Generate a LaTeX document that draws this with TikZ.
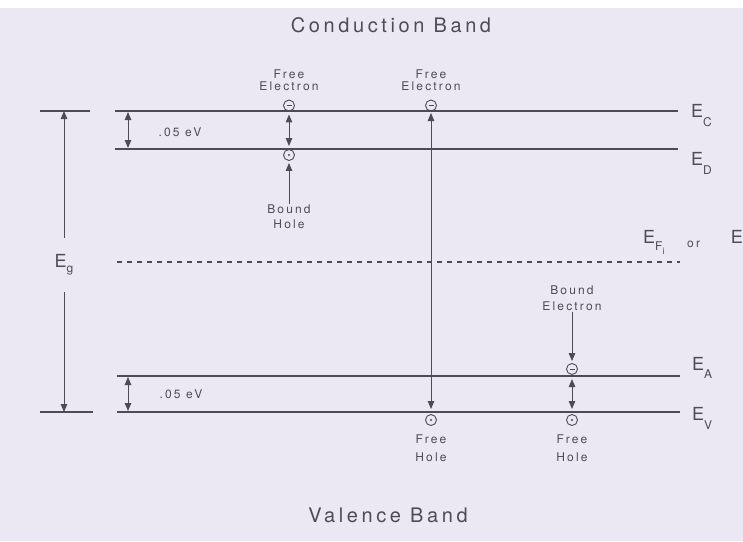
\documentclass[tikz,border=0pt]{standalone}
\usepackage{fontspec}
\setmainfont{TeX Gyre Heros}
\newfontfamily\spaced[LetterSpace=18]{TeX Gyre Heros}
\usetikzlibrary{arrows.meta}
\definecolor{bg}{RGB}{236,232,243}
\definecolor{ink}{RGB}{76,76,84}
\newcommand\Elev[2]{{\fontsize{18}{18}\selectfont E}\raisebox{-#2}{\fontsize{12}{12}\selectfont #1}}
\begin{document}
\begin{tikzpicture}[x=1pt,y=-1pt,
  level/.style={draw=ink, line width=1.4pt},
  arr/.style={draw=ink, line width=1pt, -{Triangle[length=8pt,width=6.5pt]}},
  darr/.style={draw=ink, line width=1pt, {Triangle[length=8pt,width=6.5pt]}-{Triangle[length=8pt,width=6.5pt]}},
  elec/.style={circle, draw=ink, line width=0.9pt, minimum size=11pt, inner sep=0pt,
    path picture={\draw[ink, line width=0.9pt] ([xshift=-2.5pt]path picture bounding box.center) -- ([xshift=2.5pt]path picture bounding box.center);}},
  hole/.style={circle, draw=ink, line width=0.9pt, minimum size=11pt, inner sep=0pt,
    path picture={\fill[ink] (path picture bounding box.center) circle (1.1pt);}},
  small/.style={text=ink, align=center, inner sep=1pt, font=\spaced\fontsize{12}{13}\selectfont},
  title/.style={text=ink, font=\spaced\fontsize{20}{22}\selectfont},
  elab/.style={text=ink, anchor=base west, inner sep=0pt}
]
\fill[white] (0,0) rectangle (743,541);
\fill[bg] (0,8) rectangle (743,541);
\useasboundingbox (0,0) rectangle (743,541);

% level lines
\coordinate (C0) at (40,111); \coordinate (C1) at (90,111);
\coordinate (C2) at (115,111); \coordinate (C3) at (678,111);
\coordinate (D2) at (115,149); \coordinate (D3) at (678,149);
\coordinate (F2) at (117,262); \coordinate (F3) at (680,262);
\coordinate (A2) at (117,376); \coordinate (A3) at (680,376);
\coordinate (V0) at (40,412); \coordinate (V1) at (93,412);
\coordinate (V2) at (117,412); \coordinate (V3) at (680,412);
\draw[level] (C0) -- (C1);
\draw[level] (C2) -- (C3);
\draw[level] (D2) -- (D3);
\draw[level, line width=1.2pt, dash pattern=on 5pt off 5pt] (F2) -- (F3);
\draw[level] (A2) -- (A3);
\draw[level] (V0) -- (V1);
\draw[level] (V2) -- (V3);

% level labels
\node[elab] (lC) at (691,117) {\Elev{C}{9pt}};
\node[elab] (lD) at (691,165) {\Elev{D}{9pt}};
\node[elab] (lA) at (692,370) {\Elev{A}{8pt}};
\node[elab] (lV) at (692,420) {\Elev{V}{9pt}};
\node[elab] (lF) at (643,243) {{\fontsize{18}{18}\selectfont E}\raisebox{-7pt}{\fontsize{12}{12}\selectfont F\raisebox{-4pt}{\fontsize{9}{9}\selectfont i}}};
\node[elab, font=\spaced\fontsize{12}{13}\selectfont] (lor) at (687,247) {or};
\node[text=ink, anchor=base east, inner sep=0pt] (lF2) at (743,243) {\fontsize{18}{18}\selectfont E};

% titles
\node[title, anchor=base] (tc) at (391,32) {Conduction Band};
\node[title, anchor=base] (tv) at (388,522) {Valence Band};

% Eg
\node[text=ink, anchor=base, inner sep=0pt] (Eg) at (64,267) {{\fontsize{18}{18}\selectfont E}\raisebox{-5pt}{\fontsize{12}{12}\selectfont g}};
\coordinate (egU) at (64,238); \coordinate (egC) at (64,111);
\coordinate (egL) at (64,292); \coordinate (egV) at (64,412);
\draw[arr] (egU) -- (egC);
\draw[arr] (egL) -- (egV);

% .05 eV
\coordinate (s1) at (128,111); \coordinate (s2) at (128,149);
\coordinate (s3) at (128,376); \coordinate (s4) at (128,412);
\draw[darr, shorten <=1pt, shorten >=1pt] (s1) -- (s2);
\draw[darr, shorten <=1pt, shorten >=1pt] (s3) -- (s4);
\node[small] (ev1) at (180,132) {.05 eV};
\node[small] (ev2) at (181,394) {.05 eV};

% column 1
\node[small] (fe1) at (289,80) {Free\\[-1pt]Electron};
\node[elec] (e1) at (289,105.5) {};
\coordinate (e1D) at (289,149);
\draw[darr, shorten <=3pt, shorten >=3pt] (e1) -- (e1D);
\node[hole] (h1) at (289,155) {};
\node[small] (bh) at (289,217) {Bound\\[2pt]Hole};
\draw[arr, shorten >=2pt] (bh) -- (h1);

% column 2
\node[small] (fe2) at (431,80) {Free\\[-1pt]Electron};
\node[elec] (e2) at (431,105.5) {};
\coordinate (m2C) at (431,111); \coordinate (m2V) at (431,412);
\draw[darr, shorten <=2pt, shorten >=3pt] (m2C) -- (m2V);
\node[hole] (h2) at (431,420) {};
\node[small] (fh2) at (431,448) {Free\\[5pt]Hole};

% column 3
\node[small] (be) at (572,298) {Bound\\[3pt]Electron};
\node[elec] (e3) at (572,369) {};
\draw[arr, shorten >=2pt] (be) -- (e3);
\coordinate (r3A) at (572,376); \coordinate (r3V) at (572,412);
\draw[darr, shorten <=3pt, shorten >=3pt] (r3A) -- (r3V);
\node[hole] (h3) at (572,420) {};
\node[small] (fh3) at (572,448) {Free\\[5pt]Hole};
\end{tikzpicture}
\end{document}
